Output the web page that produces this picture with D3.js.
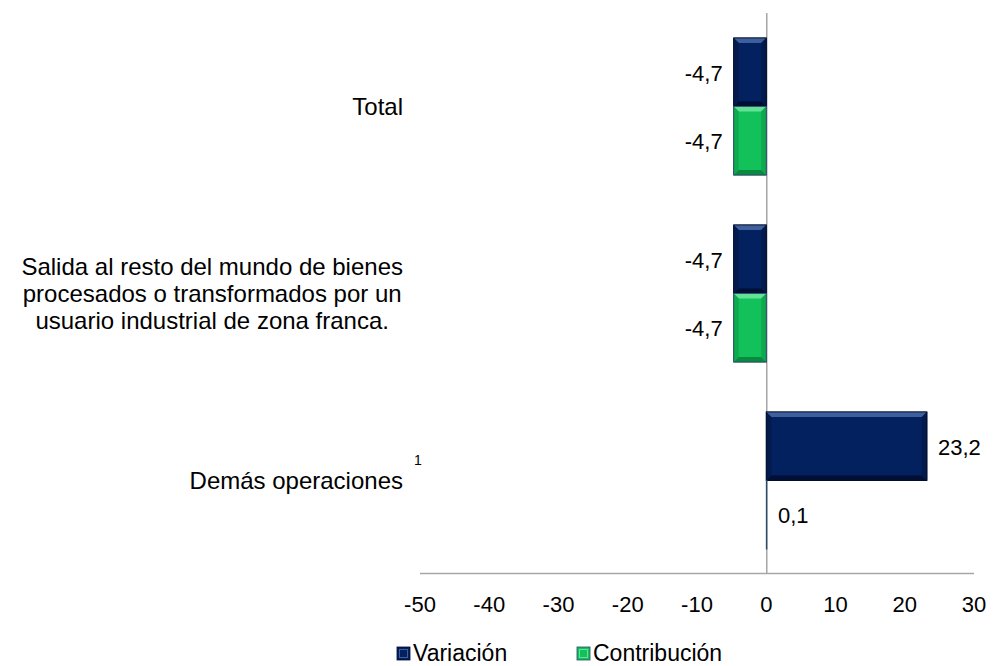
<!DOCTYPE html>
<html>
<head>
<meta charset="utf-8">
<script src="https://cdn.jsdelivr.net/npm/d3@7"></script>
<style>
  body{margin:0;background:#fff;}
  svg{display:block;font-family:"Liberation Sans",Arial,sans-serif;}
</style>
</head>
<body>
<div id="chart"></div>
<script>
// datos
const categories = ["Total", "Salida", "Demás operaciones"]
const categoryLines = [
  ["Total"],
  ["Salida al resto del mundo de bienes", "procesados o transformados por un", "usuario industrial de zona franca."],
  ["Demás operaciones"]
]
const series = ["Variación", "Contribución"]
const variacion = [-4.7, -4.7, 23.2]
const contribucion = [-4.7, -4.7, 0.1]
const xTicks = [-50, -40, -30, -20, -10, 0, 10, 20, 30]

const W = 995, H = 666
const mLeft = 420, mRight = 974, mTop = 13, mBottom = 574

const colors = {
  "Variación": {base:"#02215e", top:"#3f5e9c", bot:"#000f33", side:"#031a4c", stroke:"#000c2a"},
  "Contribución": {base:"#13c15b", top:"#62e296", bot:"#098a3e", side:"#0fa94f", stroke:"#2b4a6a"}
}

const svg = d3.select("#chart").append("svg").attr("width", W).attr("height", H)

const x = d3.scaleLinear().domain([-50, 30]).range([mLeft, mRight])
const y0 = d3.scaleBand().domain(categories).range([mTop, mBottom]).paddingInner(0.267).paddingOuter(0.1335)
const y1 = d3.scaleBand().domain(series).range([0, y0.bandwidth()])

const rows = []
categories.forEach((c, i) => {
  rows.push({cat:c, s:"Variación", v:variacion[i]})
  rows.push({cat:c, s:"Contribución", v:contribucion[i]})
})

const fmt = v => d3.format(".1f")(v).replace(".", ",").replace("\u2212", "-")

// ejes
svg.append("line").attr("x1", mLeft).attr("x2", mRight).attr("y1", mBottom - 0.5).attr("y2", mBottom - 0.5)
  .attr("stroke", "#a6a6a6").attr("stroke-width", 1.5)
svg.append("line").attr("x1", x(0) + 0.5).attr("x2", x(0) + 0.5).attr("y1", mTop).attr("y2", mBottom)
  .attr("stroke", "#a6a6a6").attr("stroke-width", 1.5)

// barras con bisel
const g = svg.append("g")
rows.forEach(d => {
  const c = colors[d.s]
  const x0 = Math.min(x(0), x(d.v)), x1 = Math.max(x(0), x(d.v))
  const yy = y0(d.cat) + y1(d.s), h = y1.bandwidth()
  const w = x1 - x0
  g.append("rect").attr("x", x0).attr("y", yy).attr("width", w).attr("height", h)
    .attr("fill", c.base).attr("stroke", c.stroke).attr("stroke-width", 0.8)
  const b = Math.min(5, w / 3, h / 3)
  if (b > 1) {
    const poly = (pts, fill) => g.append("polygon").attr("points", pts.map(p => p.join(",")).join(" ")).attr("fill", fill)
    poly([[x0, yy], [x1, yy], [x1 - b, yy + b], [x0 + b, yy + b]], c.top)
    poly([[x0, yy + h], [x1, yy + h], [x1 - b, yy + h - b], [x0 + b, yy + h - b]], c.bot)
    poly([[x0, yy], [x0 + b, yy + b], [x0 + b, yy + h - b], [x0, yy + h]], c.side)
    poly([[x1, yy], [x1 - b, yy + b], [x1 - b, yy + h - b], [x1, yy + h]], c.side)
    g.append("rect").attr("x", x0).attr("y", yy).attr("width", w).attr("height", h)
      .attr("fill", "none").attr("stroke", c.stroke).attr("stroke-width", 0.8)
  }
  // etiqueta
  const pos = d.v >= 0
  svg.append("text")
    .attr("x", pos ? x1 + 11 : x0 - 11)
    .attr("y", yy + h / 2 + 1)
    .attr("dominant-baseline", "central")
    .attr("text-anchor", pos ? "start" : "end")
    .attr("font-size", 22).attr("fill", "#000")
    .text(fmt(d.v))
})

// ticks
svg.append("g").selectAll("text").data(xTicks).join("text")
  .attr("x", d => x(d)).attr("y", 612)
  .attr("text-anchor", "middle").attr("font-size", 22)
  .text(d => d)

// categorias
const labelRight = 403
categories.forEach((c, i) => {
  const lines = categoryLines[i]
  const cy = y0(c) + y0.bandwidth() / 2
  const lh = 27
  const t = svg.append("text").attr("font-size", 24).attr("text-anchor", "middle")
  lines.forEach((ln, j) => {
    t.append("tspan").attr("y", cy + 8 + (j - (lines.length - 1) / 2) * lh).text(ln)
  })
  const widths = t.selectAll("tspan").nodes().map(n => n.getComputedTextLength())
  const mw = d3.max(widths)
  t.selectAll("tspan").attr("x", labelRight - mw / 2)
  if (c === "Demás operaciones") {
    svg.append("text").attr("x", 414).attr("y", cy - 16).attr("font-size", 14).text("1")
  }
})

// leyenda
const legendX = [397, 577]
series.forEach((s, i) => {
  const c = colors[s]
  svg.append("rect").attr("x", legendX[i]).attr("y", 647).attr("width", 13).attr("height", 13)
    .attr("fill", c.base).attr("stroke", c.stroke).attr("stroke-width", 0.8)
  svg.append("rect").attr("x", legendX[i] + 2.5).attr("y", 649.5).attr("width", 8).attr("height", 8)
    .attr("fill", "none").attr("stroke", c.top).attr("stroke-width", 1)
  svg.append("text").attr("x", legendX[i] + 16).attr("y", 661).attr("font-size", 23).text(s)
})
</script>
</body>
</html>
